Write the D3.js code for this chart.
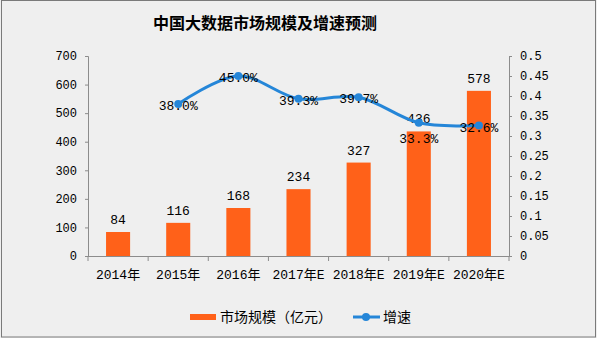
<!DOCTYPE html>
<html><head><meta charset="utf-8">
<script src="https://cdn.jsdelivr.net/npm/d3@7"></script>
<style>
html,body{margin:0;padding:0;background:#fff;}
svg{display:block;}
</style></head>
<body>
<svg id="chart" width="597" height="338"></svg>
<script>
const categories = ["2014年","2015年","2016年","2017年E","2018年E","2019年E","2020年E"];
const marketSize = [84,116,168,234,327,436,578];
const growthCats = ["2015年","2016年","2017年E","2018年E","2019年E","2020年E"];
const growthRate = [0.380,0.450,0.393,0.397,0.333,0.326];
const growthLabels = ["38.0%","45.0%","39.3%","39.7%","33.3%","32.6%"];
const leftTicks = [0,100,200,300,400,500,600,700];
const rightTicks = [0,0.05,0.1,0.15,0.2,0.25,0.3,0.35,0.4,0.45,0.5];
const title = "中国大数据市场规模及增速预测";
const legendBar = "市场规模（亿元）";
const legendLine = "增速";

(function(){
const svg = d3.select("#chart");
const W = 597, H = 338;
const mLeft = 88, mRight = 509, mTop = 56, mBottom = 256;
const barColor = "#ff6119", lineColor = "#2586d8", axisColor = "#8c8c8c";
const monoFont = "'Liberation Mono','Noto Sans CJK SC',monospace";

svg.append("rect").attr("x",0).attr("y",0).attr("width",W).attr("height",H).attr("fill","#efefef");
svg.append("rect").attr("x",1.5).attr("y",0.5).attr("width",W-3).attr("height",H-1.5)
  .attr("fill","none").attr("stroke","#7a7a7a").attr("stroke-width",1);

svg.append("text").attr("x",265).attr("y",29).attr("text-anchor","middle")
  .attr("font-family","'Noto Sans CJK SC',sans-serif").attr("font-weight","bold")
  .attr("font-size",16).attr("fill","#000").text(title);

const x = d3.scaleBand().domain(categories).range([mLeft,mRight]).paddingInner(0.6).paddingOuter(0.3);
const yL = d3.scaleLinear().domain([0,700]).range([mBottom,mTop]);
const yR = d3.scaleLinear().domain([0,0.5]).range([mBottom,mTop]);

function styleAxis(g){
  g.select(".domain").attr("stroke",axisColor);
  g.selectAll(".tick line").attr("stroke",axisColor);
  g.selectAll(".tick text").attr("fill","#000").attr("font-family",monoFont).attr("font-size",12);
}

const gL = svg.append("g").attr("transform",`translate(${mLeft},0)`)
  .call(d3.axisLeft(yL).tickValues(leftTicks).tickSize(3).tickSizeOuter(3).tickPadding(8).tickFormat(d3.format("d")));
styleAxis(gL);

const gR = svg.append("g").attr("transform",`translate(${mRight},0)`)
  .call(d3.axisRight(yR).tickValues(rightTicks).tickSize(3).tickSizeOuter(3).tickPadding(8).tickFormat(d=>String(+d.toFixed(2))));
styleAxis(gR);

// bars
svg.append("g").selectAll("rect").data(categories).join("rect")
  .attr("x",d=>x(d)).attr("width",x.bandwidth())
  .attr("y",(d,i)=>yL(marketSize[i])).attr("height",(d,i)=>mBottom-yL(marketSize[i]))
  .attr("fill",barColor);

// x axis (boundary ticks)
const gX = svg.append("g").attr("transform",`translate(0,${mBottom})`);
gX.append("line").attr("x1",mLeft).attr("x2",mRight).attr("y1",0.5).attr("y2",0.5).attr("stroke",axisColor);
const bounds = d3.range(categories.length+1).map(i=>mLeft + i*x.step());
gX.selectAll("line.tk").data(bounds).join("line").attr("class","tk")
  .attr("x1",d=>d).attr("x2",d=>d).attr("y1",0).attr("y2",5).attr("stroke",axisColor);
gX.selectAll("text").data(categories).join("text")
  .attr("x",d=>x(d)+x.bandwidth()/2).attr("y",23).attr("text-anchor","middle")
  .attr("font-family",monoFont).attr("font-size",13).attr("fill","#000").text(d=>d);

// bar labels
svg.append("g").selectAll("text").data(categories).join("text")
  .attr("x",d=>x(d)+x.bandwidth()/2).attr("y",(d,i)=>yL(marketSize[i])-8)
  .attr("text-anchor","middle").attr("font-family",monoFont).attr("font-size",13).attr("fill","#000")
  .text((d,i)=>marketSize[i]);

// line
const cx = d=>x(d)+x.bandwidth()/2;
const line = d3.line().x(d=>cx(d[0])).y(d=>yR(d[1])).curve(d3.curveCatmullRom.alpha(0.5));
const pts = growthCats.map((c,i)=>[c,growthRate[i]]);
svg.append("path").datum(pts).attr("d",line).attr("fill","none")
  .attr("stroke",lineColor).attr("stroke-width",3).attr("stroke-linecap","round");
svg.append("g").selectAll("circle").data(pts).join("circle")
  .attr("cx",d=>cx(d[0])).attr("cy",d=>yR(d[1])).attr("r",4).attr("fill",lineColor);
svg.append("g").selectAll("text").data(pts).join("text")
  .attr("x",d=>cx(d[0])).attr("y",(d,i)=> i===4 ? yR(d[1])+20 : yR(d[1])+6)
  .attr("text-anchor","middle").attr("font-family",monoFont).attr("font-size",13).attr("fill","#000")
  .text((d,i)=>growthLabels[i]);

// legend
const lg = svg.append("g");
lg.append("rect").attr("x",190).attr("y",314).attr("width",26).attr("height",6).attr("fill",barColor);
lg.append("text").attr("x",220).attr("y",322).attr("font-family","'Noto Sans CJK SC',sans-serif")
  .attr("font-size",14).attr("fill","#000").text(legendBar);
lg.append("line").attr("x1",353).attr("x2",380).attr("y1",317).attr("y2",317).attr("stroke",lineColor).attr("stroke-width",3);
lg.append("circle").attr("cx",366).attr("cy",317).attr("r",4).attr("fill",lineColor);
lg.append("text").attr("x",383).attr("y",322).attr("font-family","'Noto Sans CJK SC',sans-serif")
  .attr("font-size",14).attr("fill","#000").text(legendLine);
})();
</script>
</body></html>
